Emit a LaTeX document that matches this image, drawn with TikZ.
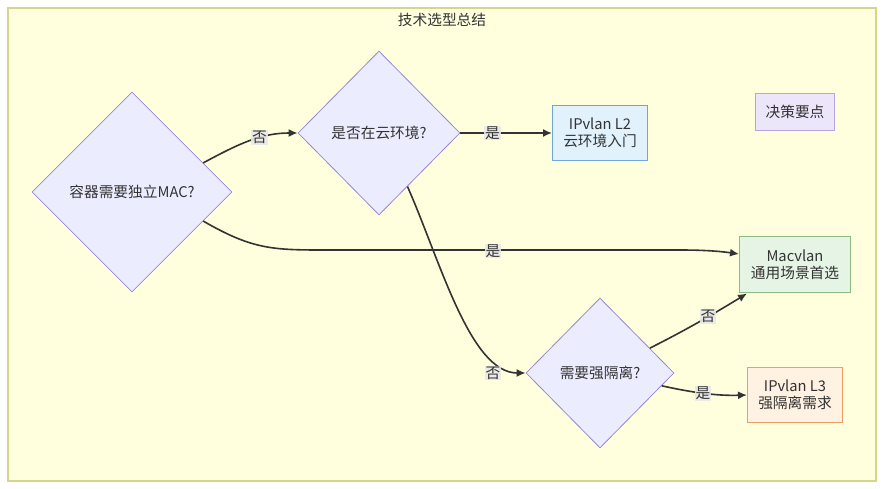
\documentclass[tikz,border=0pt]{standalone}
\usepackage{fontspec}
\setmainfont{Noto Sans CJK SC}
\usepackage{tikz}
\usetikzlibrary{calc}
\usetikzlibrary{arrows.meta}
\usetikzlibrary{shapes.geometric}
\definecolor{groupfill}{HTML}{FFFFDE}
\definecolor{groupline}{HTML}{D6D68A}
\definecolor{askfill}{HTML}{ECECFF}
\definecolor{askline}{HTML}{9A86D6}
\definecolor{bluefill}{HTML}{E1F2FD}
\definecolor{blueline}{HTML}{6FA6D8}
\definecolor{greenfill}{HTML}{E6F4E6}
\definecolor{greenline}{HTML}{8CBC84}
\definecolor{orangefill}{HTML}{FFF2E2}
\definecolor{orangeline}{HTML}{EF9E62}
\definecolor{notefill}{HTML}{ECE6FA}
\definecolor{noteline}{HTML}{B8A4E0}
\definecolor{linkline}{HTML}{333333}
\definecolor{tagfill}{HTML}{E8E8E8}

\begin{document}
\begin{tikzpicture}[x=1pt,y=-1pt,
  font=\fontsize{14.7}{17.5}\selectfont,text=linkline,
  ask/.style={diamond,aspect=1,draw=askline,fill=askfill,line width=0.8pt,inner sep=0pt,align=center},
  pick/.style={rectangle,line width=1pt,align=center,minimum width=95pt,minimum height=55pt,inner sep=2pt},
  link/.style={draw=linkline,line width=1.6pt,-{Latex[length=9pt,width=8pt]}},
  tag/.style={fill=tagfill,fill opacity=0.9,text opacity=1,inner sep=1pt}]
  \useasboundingbox (0,0) rectangle (884,489);
  \draw[groupline,fill=groupfill,line width=1.2pt] (8,8) rectangle (876,481);
  \node (title) at (442,20) {技术选型总结};

  % decisions
  \node[ask,minimum width=200pt,minimum height=200pt] (needmac) at (132,192) {容器需要独立MAC?};
  \node[ask,minimum width=162pt,minimum height=164pt] (cloud) at (379,133) {是否在云环境?};
  \node[ask,minimum width=148pt,minimum height=150pt] (isolate) at (600,373) {需要强隔离?};

  % results
  \node[pick,draw=blueline,fill=bluefill] (l2) at (600,133) {IPvlan L2\\云环境入门};
  \node[pick,draw=greenline,fill=greenfill,minimum width=111pt,minimum height=56pt] (mac) at (795,265) {Macvlan\\通用场景首选};
  \node[pick,draw=orangeline,fill=orangefill] (l3) at (795,395) {IPvlan L3\\强隔离需求};
  \node[rectangle,draw=noteline,fill=notefill,line width=1pt,minimum width=79pt,minimum height=37pt] (note) at (795,112) {决策要点};

  \coordinate (needmacNE) at ($(needmac.north)!0.71!(needmac.east)$);
  \coordinate (needmacSE) at ($(needmac.south)!0.71!(needmac.east)$);
  \coordinate (cloudSE) at ($(cloud.south)!0.35!(cloud.east)$);
  \coordinate (isolateNE) at ($(isolate.north)!0.67!(isolate.east)$);
  \coordinate (isolateSE) at ($(isolate.south)!0.83!(isolate.east)$);
  \coordinate (macW) at ($(mac.west)+(0,-11)$);
  \coordinate (macSW) at ($(mac.south west)+(8,0)$);

  \draw[link] (needmacNE) .. controls (240,143) and (262,133) .. (cloud.west) node[tag,pos=0.6] {否};
  \draw[link] (needmacSE) .. controls (250,248) and (270,250) .. (320,250) -- (680,250) .. controls (710,250) and (725,252) .. (macW);
  \node[tag] (yesmac) at (493,251) {是};
  \draw[link] (cloud.east) -- (l2.west) node[tag,pos=0.35] {是};
  \draw[link] (cloudSE) .. controls (440,260) and (470,373) .. (isolate.west);
  \node[tag] (noisolate) at (493,373) {否};
  \draw[link] (isolateNE) .. controls (690,328) and (720,310) .. (macSW) node[tag,pos=0.55] {否};
  \draw[link] (isolateSE) .. controls (690,392) and (715,396) .. (l3.west) node[tag,pos=0.5] {是};
\end{tikzpicture}
\end{document}
